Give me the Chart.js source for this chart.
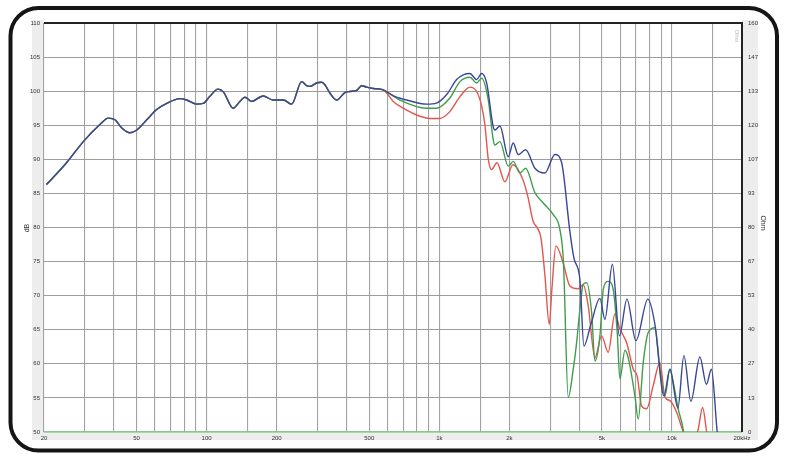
<!DOCTYPE html>
<html>
<head>
<meta charset="utf-8">
<script src="https://cdn.jsdelivr.net/npm/chart.js@4.4.0/dist/chart.umd.min.js"></script>
<style>
  html, body { margin: 0; padding: 0; background: #fff; }
  canvas { display: block; }
</style>
</head>
<body>
<canvas id="Chart" width="787" height="461"></canvas>
<script>
// common part of the three curves (below ~600 Hz)
var sharedFreq = [20.5, 25, 29.5, 34.8, 37.8, 40.4, 43.2, 46.8, 50.1, 55.3, 61, 67.4, 76.8, 82.1, 90.6, 96.7,
  103, 112, 118, 130, 139, 146, 156, 175, 193, 214, 232, 256, 269, 278, 297, 312, 323, 339, 362, 393,
  413, 441, 464, 487, 520, 574];
var sharedDb = [86.3, 89.5, 92.6, 95.1, 96.05, 95.8, 94.6, 93.9, 94.3, 95.8, 97.3, 98.2, 98.9, 98.7, 98.1, 98.2,
  99.2, 100.3, 99.9, 97.5, 98.5, 99.1, 98.5, 99.3, 98.7, 98.7, 98.1, 101.4, 100.8, 100.7, 101.2, 101.3, 100.9, 99.7, 98.7, 99.8,
  99.95, 100.1, 100.8, 100.6, 100.4, 100.2];

// blue curve, upper part
var blueFreq = [634, 724, 882, 974, 1076, 1187, 1268, 1354, 1447, 1521, 1598, 1705, 1734, 1822, 1979, 2078,
  2184, 2350, 2577, 2844, 3140, 3356, 3642, 3790, 4022, 4184, 4484, 4902, 5150, 5546, 5946, 6404, 7000,
  7880, 8448, 9236, 9800, 10600, 11254, 12060, 13180, 14060, 14776, 15650, 16070];
var blueDb = [99.3, 98.7, 98.1, 98.25, 99.5, 101.7, 102.4, 102.6, 101.7, 102.6, 101.2, 94.8, 94.3, 94.9, 90.4, 92.4,
  90.7, 91.4, 88.7, 88.0, 90.7, 89.5, 79.4, 75.5, 72.3, 62.6, 65.8, 69.6, 66.5, 74.6, 64.1, 69.5, 63.4,
  69.5, 65.8, 55.3, 59.2, 53.5, 61.2, 54.5, 61.0, 57.0, 59.2, 50.0, 47];

// green curve, upper part
var greenFreq = [677, 882, 974, 1110, 1227, 1354, 1447, 1521, 1624, 1705, 1734, 1822, 1979, 2078, 2222, 2350,
  2577, 2798, 3088, 3299, 3416, 3582, 3764, 3892, 4022, 4156, 4298, 4516, 4666, 4902, 5066, 5321, 5592,
  5818, 5976, 6280, 6486, 6930, 7162, 7526, 7906, 8448, 8876, 9328, 9800, 10122, 10636, 11176, 11500];
var greenDb = [98.7, 97.5, 97.5, 99.0, 101.4, 102.05, 101.2, 101.9, 98.7, 92.9, 92.1, 92.6, 89.0, 89.7, 88.0, 88.7,
  85.1, 83.6, 81.9, 79.7, 75.0, 55.1, 59.2, 63.1, 68.0, 71.7, 71.9, 67.5, 60.4, 64.1, 70.9, 72.1, 70.9,
  64.6, 57.8, 62.0, 60.9, 55.3, 51.9, 60.2, 64.6, 65.3, 59.2, 55.3, 59.2, 57.3, 53.4, 50.4, 47];

// red curve, upper part
var redFreq = [634, 700, 799, 912, 1006, 1110, 1227, 1354, 1447, 1521, 1571, 1624, 1678, 1769, 1914, 2072,
  2288, 2404, 2527, 2654, 2734, 2844, 2968, 3048, 3172, 3408, 3642, 3956, 4156, 4366, 4666, 4984, 5321,
  5685, 5976, 6386, 6818, 7090, 7405, 7780, 8306, 8876, 9328, 9800, 10470, 11176, 12060, 12966, 13540, 14094, 14500];
var redDb = [98.5, 97.5, 96.5, 96.0, 96.0, 97.0, 99.2, 100.6, 99.95, 97.8, 95.0, 90.0, 88.5, 89.5, 86.7, 89.2,
  87.0, 84.5, 81.0, 79.8, 78.5, 73.0, 65.8, 71.0, 77.3, 74.8, 71.4, 71.0, 71.6, 68.5, 60.9, 64.1, 61.7,
  67.3, 65.1, 63.1, 59.2, 58.2, 53.8, 53.4, 56.8, 60.2, 55.1, 54.6, 52.9, 50.0, 47, 50.4, 53.6, 50.0, 47];

// impedance trace (sits on the bottom line)
var impFreq = [20, 20000];
var impOhm = [0, 0];

// axes
var gridFreqs = [20, 30, 40, 50, 60, 70, 80, 90, 100, 150, 200, 300, 400, 500, 600, 700, 800, 900,
  1000, 1500, 2000, 3000, 4000, 5000, 6000, 7000, 8000, 9000, 10000, 15000, 20000];
var xLabelFreqs = [20, 50, 100, 200, 500, 1000, 2000, 5000, 10000, 20000];
var xLabelTexts = ['20', '50', '100', '200', '500', '1k', '2k', '5k', '10k', '20kHz'];
var ohmTickLabels = ['0', '13', '27', '40', '53', '67', '80', '93', '107', '120', '133', '147', '160'];

function toPoints(f, d) {
  return f.map(function (v, i) { return { x: v, y: d[i] }; });
}

var tickFont = { family: 'Liberation Sans', size: 6 };

// fond, bandes grises, bordures, titres et cadre arrondi
var framePlugin = {
  id: 'frame',
  beforeDraw: function (chart) {
    var c = chart.ctx, a = chart.chartArea;
    c.save();
    c.fillStyle = '#ffffff';
    c.fillRect(0, 0, chart.width, chart.height);
    c.fillStyle = '#ededed';
    c.fillRect(a.left - 12, a.top - 3, 12, a.bottom - a.top + 11);
    c.fillRect(a.right, a.top - 3, 16, a.bottom - a.top + 11);
    c.fillRect(a.left, a.bottom, a.right - a.left, 8);
    c.restore();
  },
  afterDraw: function (chart) {
    var c = chart.ctx, a = chart.chartArea;
    c.save();
    c.strokeStyle = '#222';
    c.lineWidth = 2;
    c.beginPath();
    c.moveTo(a.left, a.top);
    c.lineTo(a.right, a.top);
    c.lineTo(a.right, a.bottom);
    c.stroke();

    c.fillStyle = '#333';
    c.font = '7px "Liberation Sans"';
    c.textAlign = 'center';
    c.textBaseline = 'middle';
    c.save();
    c.translate(27, 228);
    c.rotate(-Math.PI / 2);
    c.fillText('dB', 0, 0);
    c.restore();
    c.save();
    c.translate(763, 223);
    c.rotate(Math.PI / 2);
    c.fillText('Ohm', 0, 0);
    c.restore();
    c.save();
    c.fillStyle = '#bbbbbb';
    c.font = '6px "Liberation Sans"';
    c.translate(737, 36);
    c.rotate(Math.PI / 2);
    c.fillText('Ohm', 0, 0);
    c.restore();

    // cadre arrondi
    var x0 = 10.5, y0 = 8, x1 = 777, y1 = 450.5, r = 28;
    c.strokeStyle = '#151515';
    c.lineWidth = 4;
    c.beginPath();
    c.moveTo(x0 + r, y0);
    c.arcTo(x1, y0, x1, y1, r);
    c.arcTo(x1, y1, x0, y1, r);
    c.arcTo(x0, y1, x0, y0, r);
    c.arcTo(x0, y0, x1, y0, r);
    c.closePath();
    c.stroke();
    c.restore();
  }
};

var ctx = document.getElementById('Chart').getContext('2d');
var myChart = new Chart(ctx, {
  type: 'line',
  data: {
    // first dataset is drawn on top
    datasets: [{
      label: 'blue',
      data: toPoints(sharedFreq.concat(blueFreq), sharedDb.concat(blueDb)),
      borderColor: '#3a4796',
      borderWidth: 1.4,
      pointRadius: 0,
      cubicInterpolationMode: 'monotone'
    }, {
      label: 'green',
      data: toPoints(sharedFreq.concat(greenFreq), sharedDb.concat(greenDb)),
      borderColor: '#3f9e4c',
      borderWidth: 1.4,
      pointRadius: 0,
      cubicInterpolationMode: 'monotone'
    }, {
      label: 'red',
      data: toPoints(sharedFreq.concat(redFreq), sharedDb.concat(redDb)),
      borderColor: '#e3564d',
      borderWidth: 1.4,
      pointRadius: 0,
      cubicInterpolationMode: 'monotone'
    }, {
      label: 'Impedance',
      data: toPoints(impFreq, impOhm),
      yAxisID: 'y1',
      borderColor: '#8fd08f',
      borderWidth: 1.5,
      pointRadius: 0,
      clip: false
    }]
  },
  options: {
    responsive: false,
    animation: false,
    layout: { padding: { top: 23, left: 0, right: 0, bottom: 0 } },
    plugins: {
      legend: { display: false },
      tooltip: { enabled: false }
    },
    scales: {
      x: {
        type: 'logarithmic',
        min: 20,
        max: 20000,
        afterBuildTicks: function (scale) {
          scale.ticks = gridFreqs.map(function (v) { return { value: v }; });
        },
        afterFit: function (scale) { scale.height = 29; },
        grid: { color: '#a2a2a2', lineWidth: 1.1, drawTicks: false },
        border: { display: false },
        ticks: {
          autoSkip: false,
          maxRotation: 0,
          padding: 3,
          color: '#333',
          font: tickFont,
          callback: function (value) {
            var i = xLabelFreqs.indexOf(value);
            return i >= 0 ? xLabelTexts[i] : '';
          }
        }
      },
      y: {
        position: 'left',
        min: 50,
        max: 110,
        afterFit: function (scale) { scale.width = 44; },
        grid: { color: '#9c9c9c', lineWidth: 1.1, drawTicks: false },
        border: { display: false },
        ticks: { stepSize: 5, padding: 4, color: '#333', font: tickFont }
      },
      y1: {
        position: 'right',
        min: 0,
        max: 160,
        afterBuildTicks: function (scale) {
          scale.ticks = ohmTickLabels.map(function (t, i) { return { value: i * 160 / 12 }; });
        },
        afterFit: function (scale) { scale.width = 45; },
        grid: { display: false, drawTicks: false },
        border: { display: false },
        ticks: {
          padding: 6,
          color: '#333',
          font: tickFont,
          callback: function (value, index) { return ohmTickLabels[index]; }
        }
      }
    }
  },
  plugins: [framePlugin]
});
</script>
</body>
</html>
